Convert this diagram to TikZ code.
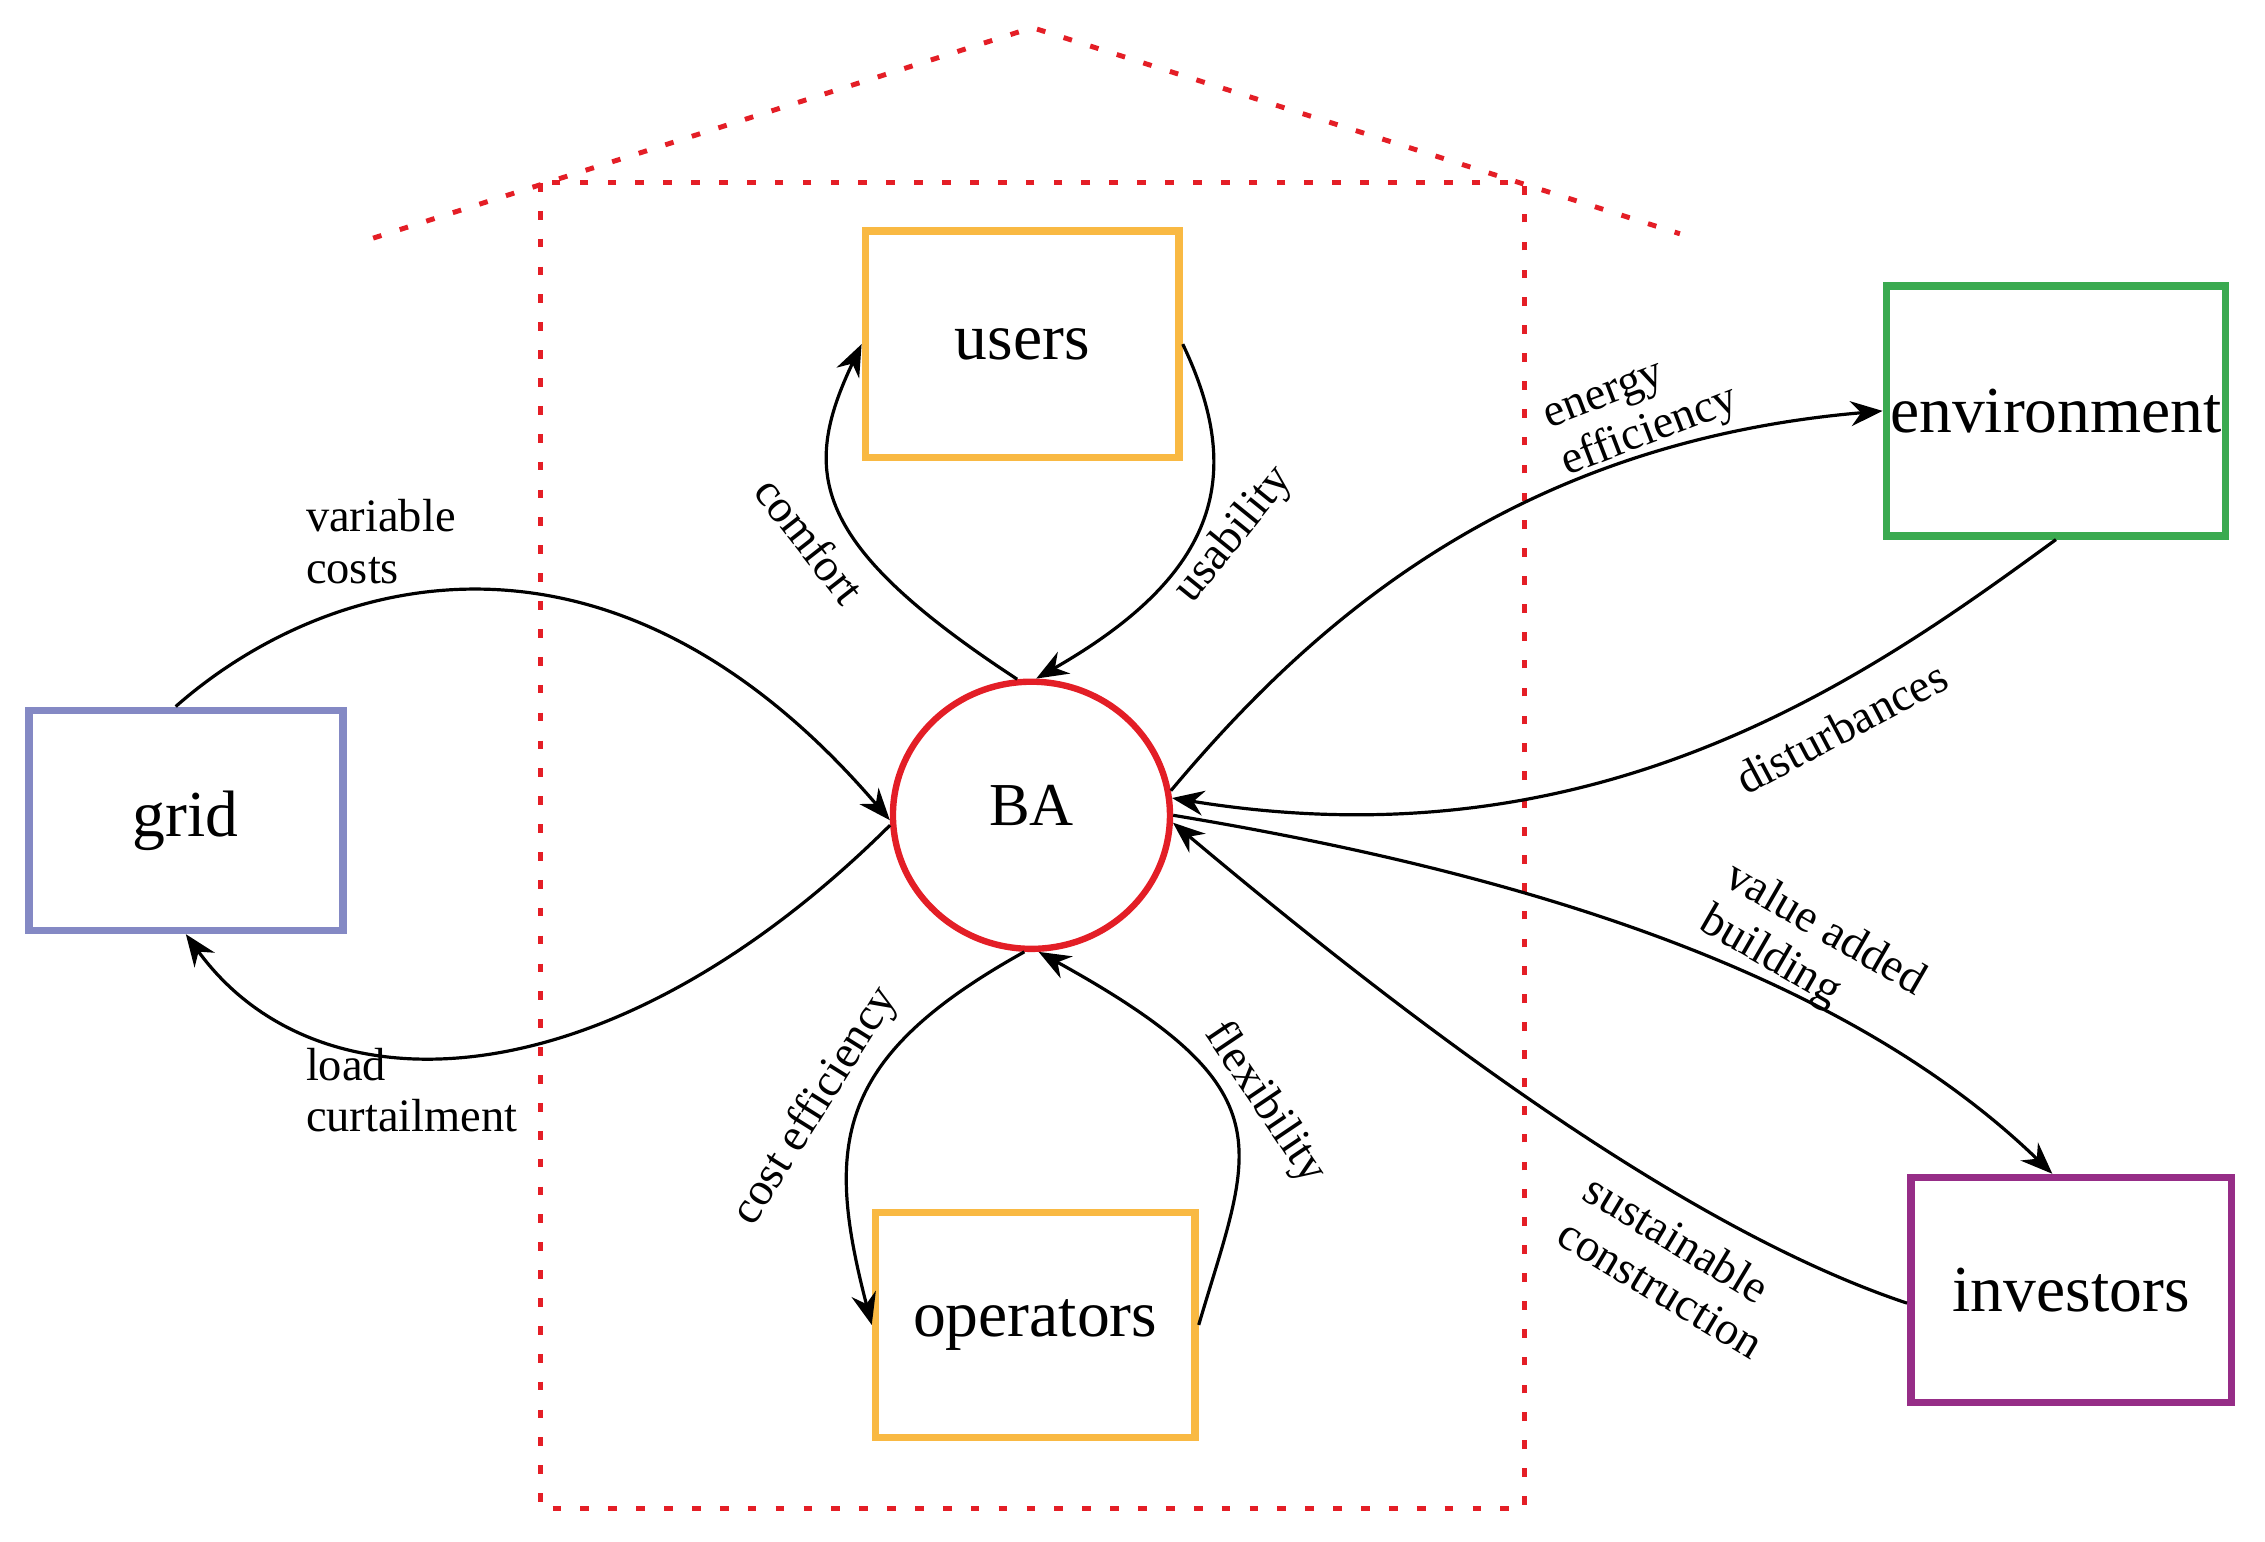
\documentclass[tikz,border=0pt]{standalone}
\usepackage{fontspec}
\setmainfont{Liberation Serif}
\usetikzlibrary{shapes.geometric,arrows.meta,calc}
\definecolor{usercol}{RGB}{249,185,67}
\definecolor{gridcol}{RGB}{132,137,196}
\definecolor{envcol}{RGB}{58,170,80}
\definecolor{invcol}{RGB}{150,45,135}
\definecolor{bared}{RGB}{227,30,38}
\definecolor{housered}{RGB}{228,30,38}
\begin{document}
\begin{tikzpicture}[x=0.25pt,y=-0.25pt,
  box/.style={draw, rectangle, line width=1.3pt, inner sep=0pt, font=\fontsize{11.3}{13}\selectfont},
  lbl/.style={inner sep=0pt, font=\fontsize{8}{8.8}\selectfont, align=left},
  flow/.style={line width=0.55pt, -{Stealth[length=5.5pt,width=4.3pt]}},
  house/.style={housered, line width=0.85pt, dash pattern=on 1.5pt off 3.3pt}]
\useasboundingbox (0,0) rectangle (1560,1062);
% house outline
\draw[house] (372,126) rectangle (1050,1039);
\draw[house] (257,164) -- (711,19) -- (1157,161);
% nodes
\node[box, draw=usercol, minimum width=54pt, minimum height=39pt] (users) at (704,237) {users};
\node[box, draw=usercol, minimum width=55pt, minimum height=38.75pt] (operators) at (713,912.5) {operators};
\node[box, draw=gridcol, minimum width=54.1pt, minimum height=37.9pt] (grid) at (128,565) {grid};
\node[box, draw=envcol, minimum width=58.4pt, minimum height=43pt] (env) at (1416,283) {environment};
\node[box, draw=invcol, minimum width=55.25pt, minimum height=38.75pt] (investors) at (1426.5,888.5) {investors};
\node[ellipse, draw=bared, line width=1.1pt, inner sep=0pt, minimum width=47.7pt, minimum height=46pt,
      font=\fontsize{10.5}{12}\selectfont, text depth=3.3pt] (BA) at (710.4,561.5) {BA};
% connectors
\draw[flow] ($(grid.north)+(-7,0)$) .. controls (225,395) and (420,340) .. (BA.182);
\draw[flow] (BA.184) .. controls (420,760) and (220,770) .. (grid.south);
\draw[flow] (BA.96) .. controls (559,375) and (551,326) .. (users.west);
\draw[flow] (users.east) .. controls (857,326) and (841,394.5) .. (BA.88);
\draw[flow] (BA.267) .. controls (574.5,728.5) and (568,787.7) .. (operators.west);
\draw[flow] (operators.east) .. controls (862,789) and (889.4,751.5) .. (BA.273);
\draw[flow] (BA.10) .. controls (902,430.5) and (1040.5,305) .. (env.west);
\draw[flow] (env.south) .. controls (1288,465) and (1103.9,597.6) .. (BA.7);
\draw[flow] (BA.0) .. controls (1054.3,602.3) and (1271.6,671.3) .. ($(investors.north)+(-13,0)$);
\draw[flow] ($(investors.west)+(0,9)$) .. controls (1173.5,850.8) and (999.1,727.4) .. (BA.357);
% labels
\node[lbl, anchor=west] (lvc) at (210,373) {variable\\costs};
\node[lbl, anchor=west] (llc) at (210,751) {load\\curtailment};
\node[lbl, rotate=-52] (lcomfort) at (558,372) {comfort};
\node[lbl, rotate=51] (lusab) at (850,368.5) {usability};
\node[lbl, rotate=58] (lcost) at (562,762) {cost efficiency};
\node[lbl, rotate=-56] (lflex) at (871,760) {flexibility};
\node[lbl, rotate=21] (lenergy) at (1131,284) {energy\\efficiency};
\node[lbl, rotate=28] (ldist) at (1268,501) {disturbances};
\node[lbl, rotate=-30] (lvalue) at (1248,656) {value added\\building};
\node[lbl, rotate=-31] (lsust) at (1153,872) {sustainable\\construction};
\end{tikzpicture}
\end{document}
